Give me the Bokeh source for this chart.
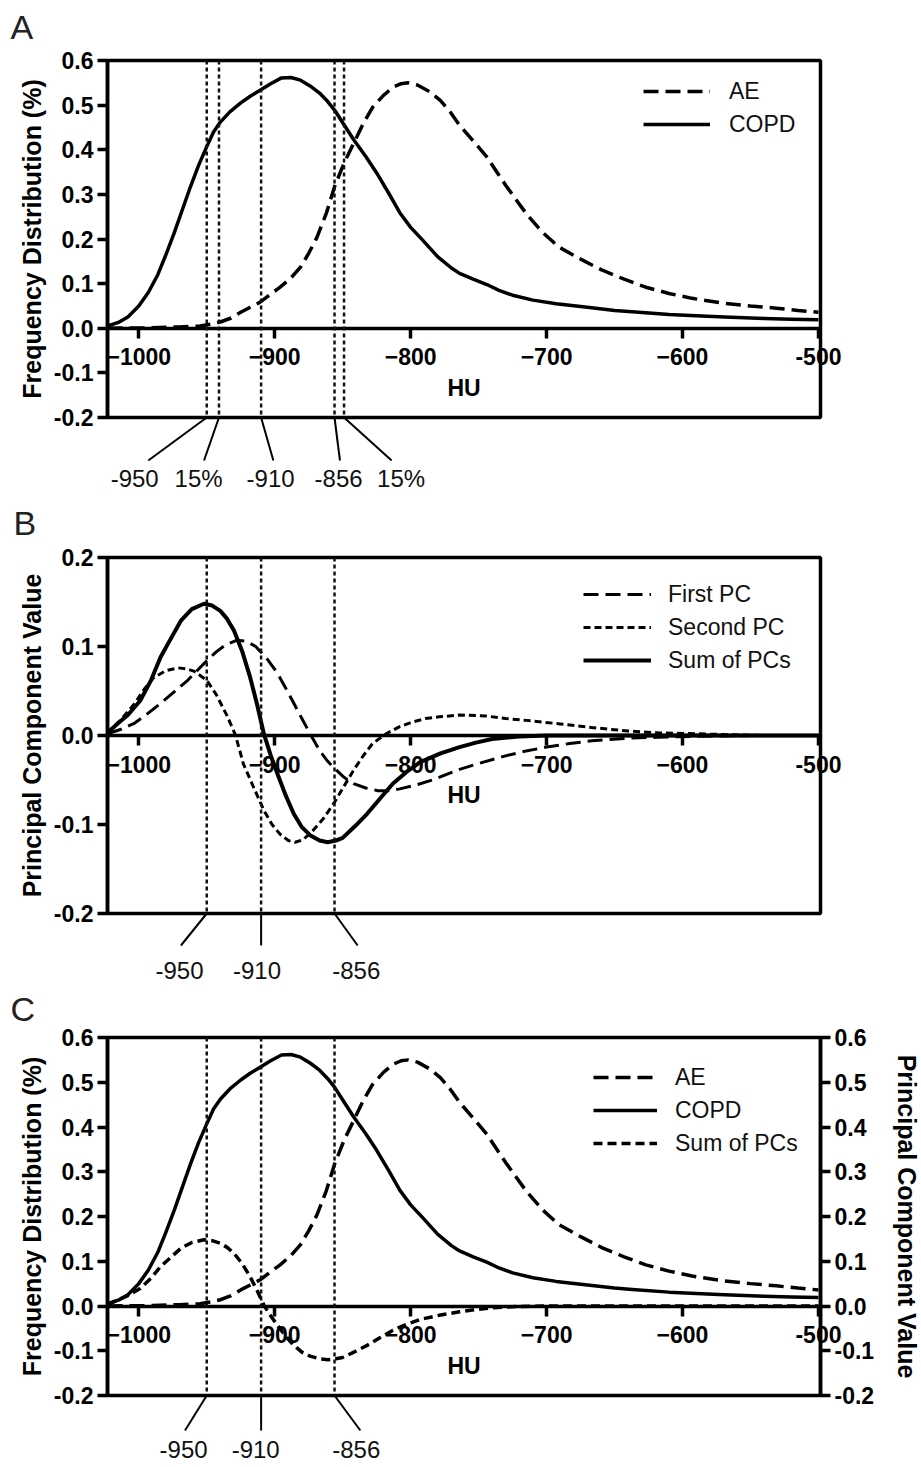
from bokeh.plotting import figure
from bokeh.models import (Range1d, LinearAxis, FixedTicker, PrintfTickFormatter,
                          Span, Legend, LegendItem)
from bokeh.layouts import column
from bokeh.embed import file_html
from bokeh.resources import INLINE
from bokeh.core.properties import value

# ---------------- data ----------------
copd_hu = [-1023, -1015, -1008, -1000, -993, -986, -980, -974, -968, -962, -956, -950,
           -945, -940, -933, -925, -918, -911, -903, -895, -888, -881, -874, -867,
           -861, -856, -849, -842, -833, -825, -816, -808, -800, -791, -780, -770,
           -764, -754, -744, -735, -725, -710, -693, -670, -650, -637, -610, -590,
           -569, -540, -520, -500]
copd = [0.005, 0.013, 0.025, 0.05, 0.08, 0.12, 0.165, 0.213, 0.265, 0.317, 0.365, 0.407,
        0.44, 0.462, 0.485, 0.505, 0.52, 0.533, 0.548, 0.561, 0.562, 0.556, 0.543, 0.527,
        0.508, 0.489, 0.456, 0.423, 0.385, 0.348, 0.302, 0.259, 0.226, 0.197, 0.16, 0.135,
        0.123, 0.11, 0.098, 0.085, 0.074, 0.063, 0.055, 0.047, 0.04, 0.037, 0.031, 0.028,
        0.025, 0.022, 0.02, 0.019]

ae_hu = [-1023, -990, -970, -955, -947, -940, -932, -925, -918, -911, -904, -896,
         -888, -881, -875, -869, -862, -856, -849, -842, -835, -828, -820, -813,
         -807, -802, -795, -786, -778, -771, -764, -754, -744, -730, -715, -703,
         -691, -675, -659, -643, -627, -610, -593, -569, -550, -531, -515, -500]
ae = [0.0, 0.001, 0.003, 0.005, 0.009, 0.014, 0.023, 0.036, 0.047, 0.058, 0.074, 0.092,
      0.113, 0.137, 0.168, 0.203, 0.258, 0.317, 0.37, 0.414, 0.458, 0.495, 0.522, 0.54,
      0.548, 0.55, 0.545, 0.53, 0.51, 0.485, 0.455, 0.42, 0.384, 0.32, 0.257, 0.215,
      0.182, 0.155, 0.13, 0.11, 0.092, 0.078, 0.067, 0.056, 0.05, 0.045, 0.04, 0.036]

pc1_hu = [-1023, -1013, -1003, -994, -984, -974, -964, -957, -950, -943, -936, -928,
          -921, -914, -906, -898, -890, -881, -874, -867, -861, -856, -849, -842,
          -833, -824, -815, -808, -797, -784, -774, -764, -749, -733, -717, -700,
          -683, -667, -640, -618, -590, -550, -500]
pc1 = [0.002, 0.007, 0.014, 0.024, 0.036, 0.049, 0.062, 0.073, 0.084, 0.094, 0.102, 0.107,
       0.106, 0.1, 0.087, 0.07, 0.048, 0.022, 0.002, -0.017, -0.029, -0.037, -0.047, -0.054,
       -0.059, -0.062, -0.062, -0.06, -0.056, -0.05, -0.044, -0.038, -0.031, -0.024, -0.018, -0.013,
       -0.009, -0.006, -0.003, -0.002, -0.001, 0.0, 0.0]

pc2_hu = [-1023, -1013, -1003, -996, -989, -980, -971, -965, -959, -950, -943, -935,
          -929, -923, -915, -908, -902, -896, -890, -885, -879, -872, -864, -856,
          -849, -842, -835, -828, -818, -808, -799, -789, -779, -764, -745, -730,
          -715, -690, -667, -640, -618, -590, -569, -540, -500]
pc2 = [0.003, 0.018, 0.036, 0.052, 0.065, 0.073, 0.076, 0.075, 0.072, 0.062, 0.046, 0.022,
       0.001, -0.032, -0.06, -0.084, -0.1, -0.111, -0.118, -0.12, -0.117, -0.107, -0.093, -0.075,
       -0.057, -0.039, -0.023, -0.009, 0.002, 0.01, 0.015, 0.019, 0.021, 0.023, 0.022, 0.019,
       0.017, 0.013, 0.009, 0.005, 0.003, 0.002, 0.001, 0.0, 0.0]

sum_hu = [-1023, -1015, -1008, -999, -991, -984, -976, -969, -961, -952, -946, -940,
          -935, -930, -924, -918, -913, -908, -903, -898, -892, -886, -880, -874,
          -867, -861, -855, -850, -841, -832, -822, -813, -803, -793, -778, -764,
          -752, -740, -720, -700, -500]
pc_sum = [0.003, 0.014, 0.023, 0.039, 0.062, 0.088, 0.11, 0.129, 0.142, 0.148, 0.146, 0.14,
          0.131, 0.118, 0.095, 0.065, 0.035, 0.002, -0.022, -0.043, -0.067, -0.088, -0.103, -0.112,
          -0.118, -0.12, -0.118, -0.115, -0.102, -0.088, -0.07, -0.054, -0.041, -0.03, -0.02, -0.013,
          -0.008, -0.004, -0.001, 0.0, 0.0]

x_ticks = [-1000, -900, -800, -700, -600, -500]
freq_ticks = [-0.2, -0.1, 0.0, 0.1, 0.2, 0.3, 0.4, 0.5, 0.6]
pc_ticks = [-0.2, -0.1, 0.0, 0.1, 0.2]

# threshold markers and their labels
thr_a = [-950, -941, -910, -856, -849]
lab_a = ["-950", "15%", "-910", "-856", "15%"]
lead_a = [-993, -952, -901, -852, -814]
labx_a = [-1003, -956, -903, -853, -807]

thr_bc = [-950, -910, -856]
lab_bc = ["-950", "-910", "-856"]
lead_b = [-969, -910, -839]
labx_b = [-970, -913, -840]
lead_c = [-966, -910, -837]
labx_c = [-967, -914, -840]

FONT = "Liberation Sans"
FW = 713
LB = 107
X0, X1 = -1023, -498.5


def style_axis(ax):
    ax.axis_line_width = 3.5
    ax.axis_line_color = "black"
    ax.major_tick_line_width = 3.5
    ax.major_tick_line_color = "black"
    ax.major_tick_out = 10
    ax.major_tick_in = 0
    ax.minor_tick_line_color = None
    ax.major_label_text_font = FONT
    ax.major_label_text_font_style = "bold"
    ax.major_label_text_font_size = "23px"
    ax.major_label_text_color = "black"
    ax.axis_label_text_font = FONT
    ax.axis_label_text_font_style = "bold"
    ax.axis_label_text_font_size = "25px"
    ax.axis_label_text_color = "black"


def main_fig(letter, y_lo, y_hi, yticks, ylabel, top, frame_h, bottom, right, letter_dx, letter_dy):
    p = figure(x_range=Range1d(X0, X1), y_range=Range1d(y_lo, y_hi),
               frame_width=FW, frame_height=frame_h,
               min_border_left=LB, min_border_right=right, min_border_top=top,
               min_border_bottom=bottom, output_backend="svg", toolbar_location=None)
    p.xgrid.visible = False
    p.ygrid.visible = False
    p.outline_line_color = "black"
    p.outline_line_width = 3.5
    p.outline_line_alpha = 1.0
    xa = p.xaxis[0]
    style_axis(xa)
    xa.fixed_location = 0
    xa.ticker = FixedTicker(ticks=x_ticks)
    xa.major_label_overrides = {-500: ""}
    xa.axis_label = "HU"
    xa.axis_label_text_font_size = "23px"
    xa.major_label_standoff = 10
    xa.axis_label_standoff = 6
    ya = p.yaxis[0]
    style_axis(ya)
    ya.ticker = FixedTicker(ticks=yticks)
    ya.formatter = PrintfTickFormatter(format="%.1f")
    ya.axis_label = ylabel
    ya.major_label_standoff = 4
    ya.axis_label_standoff = 5
    # last x tick label, drawn over the right frame edge as in the reference
    p.text(x=[x_ticks[-1]], y=[0], text=["-500"], x_offset=0, y_offset=20,
           text_align="center", text_baseline="top", text_font=value(FONT),
           text_font_style="bold", text_font_size=value("23px"), text_color="black",
           level="overlay")
    # panel letter
    p.text(x=[X0], y=[y_hi], text=[letter], x_offset=letter_dx, y_offset=letter_dy,
           text_align="left", text_baseline="middle", text_font=value(FONT),
           text_font_size=value("34px"), text_color="#222222", level="overlay")
    return p


def below(p, frame_h, px):
    lo, hi = p.y_range.start, p.y_range.end
    return lo - px * (hi - lo) / frame_h


def add_spans(p, thr):
    for t in thr:
        p.add_layout(Span(location=t, dimension="height", line_color="#111111",
                          line_width=2.5, line_dash="4 3"))


def add_leaders(p, frame_h, thr, ends, end_px, lx, label_px, labels):
    n = len(thr)
    y0 = p.y_range.start
    p.segment(x0=thr, y0=[y0] * n, x1=ends, y1=[below(p, frame_h, end_px)] * n,
              line_color="black", line_width=2, level="overlay")
    p.text(x=lx, y=[below(p, frame_h, label_px)] * n, text=labels, text_align="center",
           text_baseline="middle", text_font=value(FONT), text_font_size=value("24px"),
           text_color="#111111", level="overlay")


def add_legend(p, items, vx, vy, gw, standoff):
    lg = Legend(items=[LegendItem(label=l, renderers=[r]) for l, r in items],
                location=(vx, vy))
    lg.border_line_color = None
    lg.background_fill_alpha = 0
    lg.label_text_font = FONT
    lg.label_text_font_size = "23px"
    lg.label_text_color = "#111111"
    lg.glyph_width = gw
    lg.glyph_height = 28
    lg.label_height = 28
    lg.label_standoff = standoff
    lg.spacing = 5
    lg.padding = 0
    lg.margin = 0
    p.add_layout(lg)


# ---------------- Panel A ----------------
HA = 357
pA = main_fig("A", -0.2, 0.6, freq_ticks, "Frequency Distribution (%)", 60, HA, 83, 30, -97, -34)
add_spans(pA, thr_a)
rA_ae = pA.line(ae_hu, ae, line_color="black", line_width=3.5, line_dash="15 7")
rA_copd = pA.line(copd_hu, copd, line_color="black", line_width=3.5, line_join="round")
add_legend(pA, [("AE", rA_ae), ("COPD", rA_copd)], 536, 279, 67, 19)
add_leaders(pA, HA, thr_a, lead_a, 43, labx_a, 61, lab_a)

# ---------------- Panel B ----------------
HB = 356
pB = main_fig("B", -0.2, 0.2, pc_ticks, "Principal Component Value", 57, HB, 72, 30, -94, -35)
add_spans(pB, thr_bc)
rB1 = pB.line(pc1_hu, pc1, line_color="black", line_width=3, line_dash="15 7")
rB2 = pB.line(pc2_hu, pc2, line_color="black", line_width=3, line_dash="7 4")
rBs = pB.line(sum_hu, pc_sum, line_color="black", line_width=4, line_join="round")
add_legend(pB, [("First PC", rB1), ("Second PC", rB2), ("Sum of PCs", rBs)], 476, 239, 68, 17)
add_leaders(pB, HB, thr_bc, lead_b, 32, labx_b, 57, lab_bc)

# ---------------- Panel C ----------------
HC = 358
pC = main_fig("C", -0.2, 0.6, freq_ticks, "Frequency Distribution (%)", 52, HC, 71, 100, -97, -29)
pC.extra_y_ranges = {"pc": Range1d(-0.2, 0.6)}
ra = LinearAxis(y_range_name="pc", axis_label="Principal Component Value")
style_axis(ra)
ra.ticker = FixedTicker(ticks=freq_ticks)
ra.formatter = PrintfTickFormatter(format="%.1f")
ra.major_label_standoff = 4
ra.axis_label_standoff = 16
pC.add_layout(ra, "right")
add_spans(pC, thr_bc)
rC_ae = pC.line(ae_hu, ae, line_color="black", line_width=3.5, line_dash="15 7")
rC_copd = pC.line(copd_hu, copd, line_color="black", line_width=3.5, line_join="round")
rC_sum = pC.line(sum_hu, pc_sum, line_color="black", line_width=3.5, line_dash="9 5",
                 y_range_name="pc")
add_legend(pC, [("AE", rC_ae), ("COPD", rC_copd), ("Sum of PCs", rC_sum)], 486, 238, 64, 18)
add_leaders(pC, HC, thr_bc, lead_c, 35, labx_c, 54, lab_bc)

layout = column(pA, pB, pC, spacing=0)
open("out.html", "w").write(file_html(layout, INLINE))
